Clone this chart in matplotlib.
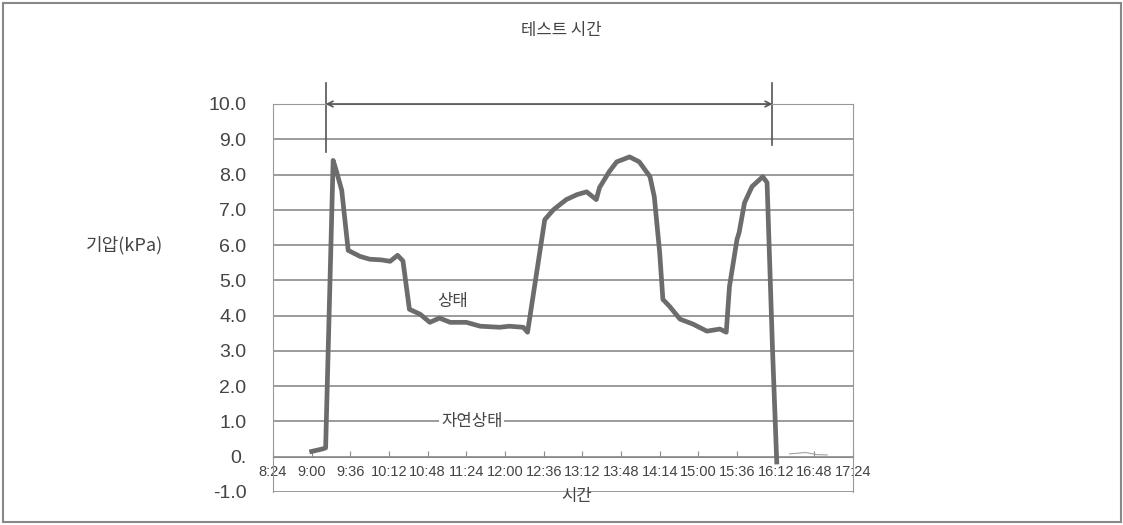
import matplotlib
matplotlib.use("Agg")
import matplotlib.pyplot as plt
from matplotlib.patches import Rectangle

# time in minutes after midnight, pressure in kPa
t_min = [540, 550, 553, 560, 563, 568, 574, 585, 594, 605, 613, 620, 625,
         631, 641, 650, 659, 669, 684, 697, 715, 724, 737, 741, 757, 765,
         777, 787, 796, 805, 808, 817, 824, 836, 845, 855, 859, 864, 867,
         873, 883, 895, 908, 920, 926, 929, 936, 938, 943, 950, 960, 964,
         969, 973]
pressure = [0.15, 0.22, 0.25, 8.40, 8.10, 7.55, 5.85, 5.68, 5.60, 5.58, 5.54,
            5.71, 5.55, 4.18, 4.04, 3.81, 3.93, 3.81, 3.81, 3.70, 3.67, 3.70,
            3.67, 3.53, 6.72, 7.00, 7.29, 7.43, 7.51, 7.29, 7.63, 8.08, 8.36,
            8.50, 8.36, 7.94, 7.37, 5.79, 4.46, 4.27, 3.90, 3.76, 3.56, 3.62,
            3.53, 4.83, 6.16, 6.36, 7.20, 7.66, 7.94, 7.77, 3.10, -0.15]
# faint trace after the test ends
tail_t = [985, 1000, 1010, 1020]
tail_p = [0.08, 0.12, 0.06, 0.05]

x_ticks = list(range(504, 1045, 36))
x_labels = ["8:24", "9:00", "9:36", "10:12", "10:48", "11:24", "12:00", "12:36",
            "13:12", "13:48", "14:14", "15:00", "15:36", "16:12", "16:48", "17:24"]
y_ticks = list(range(-1, 11))
y_labels = ["-1.0", "0.", "1.0", "2.0", "3.0", "4.0", "5.0", "6.0", "7.0",
            "8.0", "9.0", "10.0"]

test_start, test_end = 553, 969

num_font = ["Liberation Sans", "DejaVu Sans"]
kr = ["Noto Sans CJK KR", "DejaVu Sans"]
txt = "#444444"

fig = plt.figure(figsize=(11.23, 5.25), dpi=100)
ax = fig.add_axes([273 / 1123, 1 - 492 / 525, 580 / 1123, 388 / 525])

for y in y_ticks:
    ax.axhline(y, color="#8a8a8a", lw=1.2, zorder=1)

ax.plot(t_min, pressure, color="#6c6c6c", lw=3.4, solid_joinstyle="round", zorder=3)
ax.plot(tail_t, tail_p, color="#a0a0a0", lw=0.8, zorder=2)

ax.set_xlim(504, 1044)
ax.set_ylim(-1, 10)
ax.spines["bottom"].set_position(("data", 0))
for s in ["left", "right", "top"]:
    ax.spines[s].set_color("#999999")
ax.spines["bottom"].set_color("#8a8a8a")

ax.set_xticks(x_ticks)
ax.set_xticklabels(x_labels, family=num_font, fontsize=10.5, color=txt)
ax.tick_params(axis="x", direction="in", length=4, color="#8a8a8a", pad=6)
ax.set_yticks(y_ticks)
ax.set_yticklabels(y_labels, family=num_font, fontsize=14, color=txt)
ax.tick_params(axis="y", length=0, pad=19)

# test duration marker
ax.annotate("", xy=(test_start, 10), xytext=(test_end, 10),
            arrowprops=dict(arrowstyle="<->", color="#555555", lw=1.2,
                            shrinkA=0, shrinkB=0), annotation_clip=False)
ax.plot([test_start, test_start], [8.65, 10.6], color="#555555", lw=1.2, clip_on=False)
ax.plot([test_end, test_end], [8.85, 10.6], color="#555555", lw=1.2, clip_on=False)

ax.text(671, 4.4, "상태", family=kr, fontsize=12, color=txt, ha="center", va="center")
ax.text(689, 1.0, "자연상태", family=kr, fontsize=12, color=txt, ha="center", va="center",
        bbox=dict(facecolor="white", edgecolor="none", pad=1.5), zorder=4)

fig.text(561 / 1123, 1 - 30 / 525, "테스트 시간", family=kr, fontsize=12,
         color=txt, ha="center", va="center")
fig.text(125 / 1123, 1 - 245 / 525, "기압(kPa)", family=kr, fontsize=13,
         color=txt, ha="center", va="center")
fig.text(577 / 1123, 1 - 496 / 525, "시간", family=kr, fontsize=12,
         color=txt, ha="center", va="center")

fig.patches.append(Rectangle((3 / 1123, 3 / 525), 1118 / 1123, 519 / 525,
                             transform=fig.transFigure, fill=False,
                             edgecolor="#888888", lw=1.5))

fig.savefig("out.png", dpi=100)
